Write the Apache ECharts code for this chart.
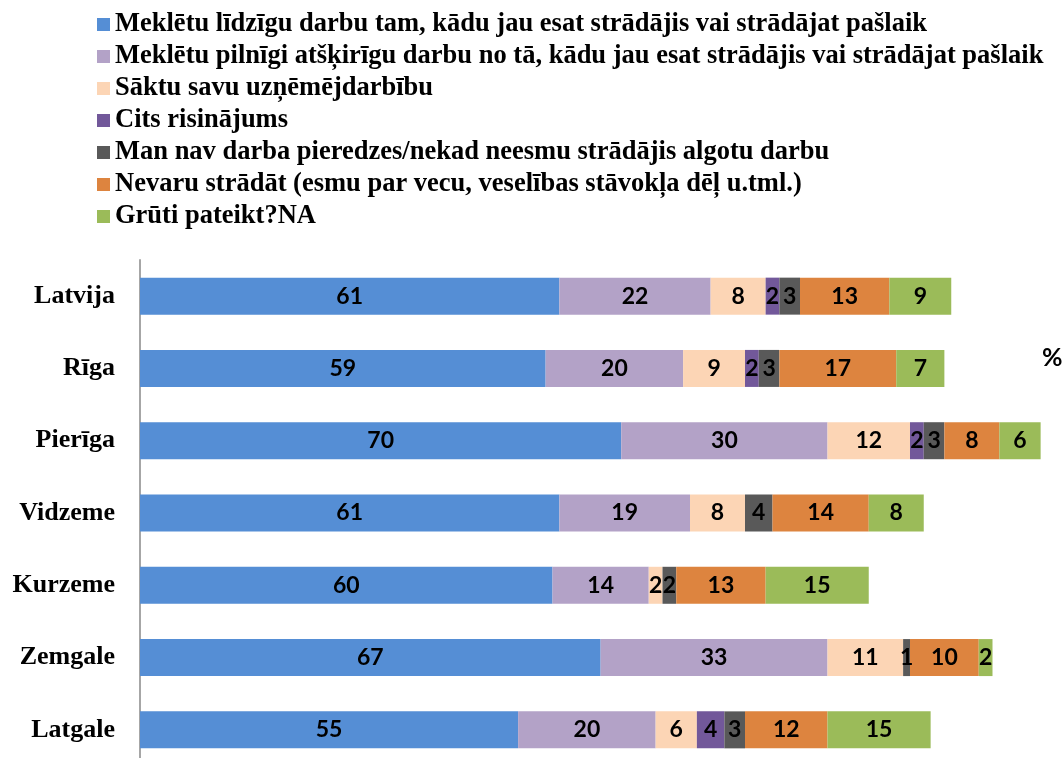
<!DOCTYPE html>
<html>
<head>
<meta charset="utf-8">
<script src="https://cdn.jsdelivr.net/npm/echarts@6/dist/echarts.min.js"></script>
<style>
  html, body { margin: 0; padding: 0; background: #fff; }
  #chart { width: 1064px; height: 758px; }
</style>
</head>
<body>
<div id="chart"></div>
<script>
// reģioni
var regions = ['Latvija', 'Rīga', 'Pierīga', 'Vidzeme', 'Kurzeme', 'Zemgale', 'Latgale'];

var seriesNames = [
  'Meklētu līdzīgu darbu tam, kādu jau esat strādājis vai strādājat pašlaik',
  'Meklētu pilnīgi atšķirīgu darbu no tā, kādu jau esat strādājis vai strādājat pašlaik',
  'Sāktu savu uzņēmējdarbību',
  'Cits risinājums',
  'Man nav darba pieredzes/nekad neesmu strādājis algotu darbu',
  'Nevaru strādāt (esmu par vecu, veselības stāvokļa dēļ u.tml.)',
  'Grūti pateikt?NA'
];

var lidzigu    = [61, 59, 70, 61, 60, 67, 55];
var atskirigu  = [22, 20, 30, 19, 14, 33, 20];
var uznemejs   = [8, 9, 12, 8, 2, 11, 6];
var cits       = [2, 2, 2, 0, 0, 0, 4];
var nepieredze = [3, 3, 3, 4, 2, 1, 3];
var nevaru     = [13, 17, 8, 14, 13, 10, 12];
var gruti      = [9, 7, 6, 8, 15, 2, 15];

var colors = ['#558ed5', '#b3a2c7', '#fcd5b5', '#72589a', '#595959', '#dd843f', '#9bbb59'];
var allData = [lidzigu, atskirigu, uznemejs, cits, nepieredze, nevaru, gruti];

var chart = echarts.init(document.getElementById('chart'));

var series = [];
for (var i = 0; i < allData.length; i++) {
  series.push({
    name: seriesNames[i],
    type: 'bar',
    stack: 'kopa',
    barWidth: 37,
    itemStyle: { color: colors[i] },
    label: {
      show: true,
      position: 'inside',
      color: '#000',
      fontFamily: 'Lato',
      fontWeight: 'bold',
      fontSize: 23,
      formatter: function(p) { return p.value > 0 ? p.value : ''; }
    },
    data: allData[i]
  });
}

var option = {
  animation: false,
  color: colors,
  legend: {
    orient: 'vertical',
    left: 92,
    top: 6,
    itemWidth: 13,
    itemHeight: 13,
    itemGap: 5,
    icon: 'rect',
    textStyle: {
      fontFamily: 'Liberation Serif',
      fontWeight: 'bold',
      fontSize: 26.5,
      lineHeight: 26,
      color: '#000'
    },
    data: seriesNames
  },
  grid: {
    left: 140,
    top: 260,
    width: 924,
    height: 506,
    outerBoundsMode: 'none'
  },
  xAxis: {
    type: 'value',
    min: 0,
    max: 134.4,
    show: false
  },
  yAxis: {
    type: 'category',
    inverse: true,
    data: regions,
    axisLine: { show: true, lineStyle: { color: '#a6a6a6', width: 2 } },
    axisTick: { show: false },
    axisLabel: {
      margin: 25,
      color: '#000',
      fontFamily: 'Liberation Serif',
      fontWeight: 'bold',
      fontSize: 26
    }
  },
  graphic: [{
    type: 'text',
    left: 1042,
    top: 345,
    style: {
      text: '%',
      fontFamily: 'Lato',
      fontWeight: 'bold',
      fontSize: 25,
      fill: '#000'
    }
  }],
  series: series
};

chart.setOption(option);
</script>
</body>
</html>
